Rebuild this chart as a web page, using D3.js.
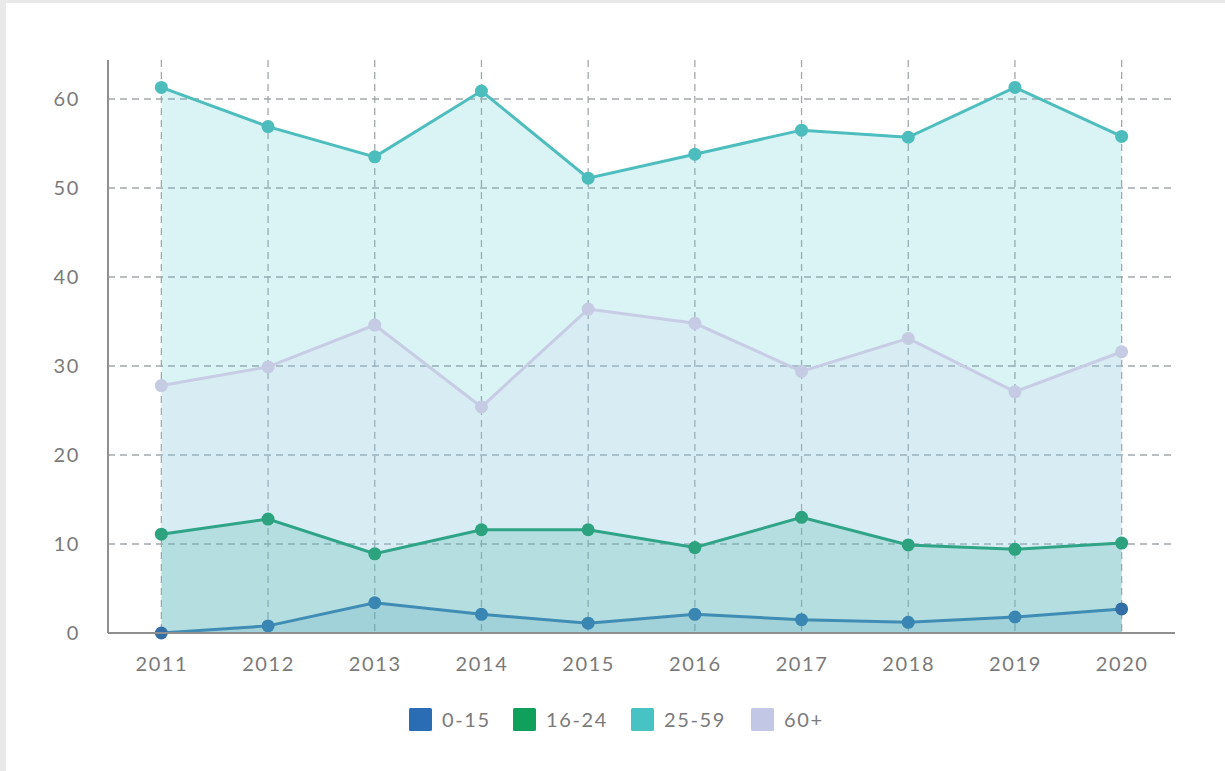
<!DOCTYPE html>
<html>
<head>
<meta charset="utf-8">
<script src="https://cdn.jsdelivr.net/npm/d3@7"></script>
<style>
  html, body { margin: 0; padding: 0; background: #e9e9e9; }
  svg { display: block; font-family: Lato, "Open Sans", sans-serif; }
</style>
</head>
<body>
<svg id="chart" width="1225" height="771"></svg>
<script>
// Years on the x axis
const years = ["2011","2012","2013","2014","2015","2016","2017","2018","2019","2020"];

// Age-group series (values per year)
const age0to15  = [0.0, 0.8, 3.4, 2.1, 1.1, 2.1, 1.5, 1.2, 1.8, 2.7];
const age16to24 = [11.1, 12.8, 8.9, 11.6, 11.6, 9.6, 13.0, 9.9, 9.4, 10.1];
const age25to59 = [61.3, 56.9, 53.5, 60.9, 51.1, 53.8, 56.5, 55.7, 61.3, 55.8];
const age60plus = [27.8, 29.9, 34.6, 25.4, 36.4, 34.8, 29.4, 33.1, 27.1, 31.6];

const seriesNames = ["0-15", "16-24", "25-59", "60+"];
const yTicks = [0, 10, 20, 30, 40, 50, 60];

// Drawing order: back to front
const series = [
  { name: "25-59", values: age25to59, line: "#4dbdbd", dot: "#4cbcbc", fill: "rgba(86,200,210,0.22)" },
  { name: "60+",   values: age60plus, line: "#c6cde4", dot: "#c4cbe2", fill: "rgba(200,200,235,0.16)" },
  { name: "16-24", values: age16to24, line: "#2fa486", dot: "#2ca27e", fill: "rgba(60,175,160,0.22)" },
  { name: "0-15",  values: age0to15,  line: "#3f8cb5", dot: "#3a86b2", fill: "rgba(80,150,190,0.18)" }
];
const legendColors = { "0-15": "#2a6db5", "16-24": "#10a05c", "25-59": "#47c3c3", "60+": "#c2c7e6" };

const textColor = "#7a7a7a";
const fontSize = 20;
const letterSpacing = 1.6;

const svg = d3.select("#chart");
svg.append("rect").attr("x", 6).attr("y", 3).attr("width", 1219).attr("height", 768).attr("fill", "#ffffff");

const plotLeft = 108, plotRight = 1175, plotTop = 60, plotBottom = 633;

const x = d3.scalePoint().domain(years).range([plotLeft, plotRight]).padding(0.5);
const y = d3.scaleLinear().domain([0, 60]).range([plotBottom, 99]);

const gridColor = "#a3a8ab";

// Horizontal grid
svg.append("g")
  .selectAll("line")
  .data(yTicks.filter(d => d > 0))
  .join("line")
  .attr("x1", plotLeft).attr("x2", plotRight)
  .attr("y1", d => y(d)).attr("y2", d => y(d))
  .attr("stroke", gridColor).attr("stroke-width", 1.3)
  .attr("stroke-dasharray", "7,5");

// Vertical grid
svg.append("g")
  .selectAll("line")
  .data(years)
  .join("line")
  .attr("x1", d => x(d)).attr("x2", d => x(d))
  .attr("y1", plotTop).attr("y2", plotBottom)
  .attr("stroke", gridColor).attr("stroke-width", 1.3)
  .attr("stroke-dasharray", "7,5");

const area = d3.area()
  .x((d, i) => x(years[i]))
  .y0(y(0))
  .y1(d => y(d));
const line = d3.line()
  .x((d, i) => x(years[i]))
  .y(d => y(d));

series.forEach(s => {
  svg.append("path").datum(s.values).attr("d", area).attr("fill", s.fill);
});
series.forEach(s => {
  svg.append("path").datum(s.values).attr("d", line)
    .attr("fill", "none").attr("stroke", s.line).attr("stroke-width", 3);
  svg.append("g").selectAll("circle").data(s.values).join("circle")
    .attr("cx", (d, i) => x(years[i])).attr("cy", d => y(d)).attr("r", 6.5)
    .attr("fill", (d, i) => (s.name === "0-15" && (i === 0 || i === 9)) ? "#336fa6" : s.dot);
});

// Axes
const yAxis = svg.append("g").attr("transform", `translate(${plotLeft},0)`)
  .call(d3.axisLeft(y).tickValues(yTicks).tickSize(0).tickPadding(28));
yAxis.select(".domain").attr("d", `M0,${plotTop}V${plotBottom}`).attr("stroke", "#8f8f8f").attr("stroke-width", 2);
yAxis.selectAll("text").attr("fill", textColor).attr("font-size", fontSize)
  .attr("font-family", "Lato, sans-serif").attr("letter-spacing", letterSpacing);

const xAxis = svg.append("g").attr("transform", `translate(0,${plotBottom})`)
  .call(d3.axisBottom(x).tickSize(0).tickPadding(24));
xAxis.select(".domain").attr("d", `M${plotLeft},0H${plotRight}`).attr("stroke", "#8f8f8f").attr("stroke-width", 2);
xAxis.selectAll("text").attr("fill", textColor).attr("font-size", fontSize)
  .attr("font-family", "Lato, sans-serif").attr("letter-spacing", letterSpacing);

// Legend
const legendX = [409, 513, 631, 751];
const legend = svg.append("g");
seriesNames.forEach((name, i) => {
  const g = legend.append("g").attr("transform", `translate(${legendX[i]},708)`);
  g.append("rect").attr("width", 23).attr("height", 23).attr("rx", 1.5).attr("fill", legendColors[name]);
  g.append("text").attr("x", 33).attr("y", 19).text(name)
    .attr("fill", textColor).attr("font-size", fontSize)
    .attr("font-family", "Lato, sans-serif").attr("letter-spacing", letterSpacing);
});
</script>
</body>
</html>
